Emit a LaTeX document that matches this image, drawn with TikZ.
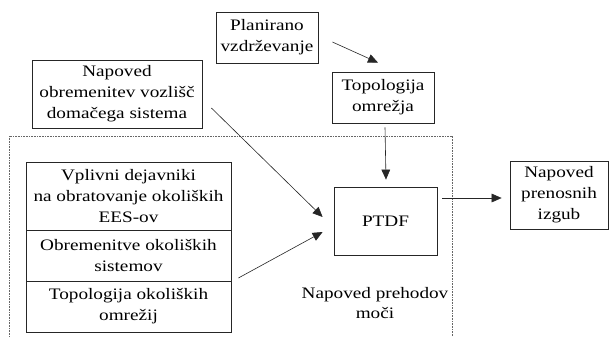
\documentclass[tikz,border=0pt]{standalone}
\usepackage{fontspec}
\setmainfont[FakeStretch=1.2]{Liberation Serif}
\usetikzlibrary{arrows.meta,calc}
\begin{document}
\begin{tikzpicture}[x=0.75pt,y=-0.75pt,
  box/.style={draw=black!85,line width=0.6pt,align=center,inner sep=0pt,
    font=\fontsize{12}{15.75}\selectfont},
  arr/.style={draw=black!85,line width=0.45pt,-{Triangle[length=7.5pt,width=6.5pt]}},
  lbl/.style={align=center,inner sep=0pt,font=\fontsize{12}{15}\selectfont}]
\useasboundingbox[fill=white] (0,0) rectangle (609,336);
\begin{scope}
\clip (0,0) rectangle (609,336);
\draw[black!60,line width=0.5pt,dash pattern=on 0.6pt off 0.6pt] (9,136) rectangle (452,345);
\end{scope}
\node[box,minimum width=102*0.75pt,minimum height=51*0.75pt] (plan) at (267,37.5) {Planirano\\vzdrževanje};
\node[box,minimum width=170*0.75pt,minimum height=68*0.75pt] (obrem) at (117,94) {Napoved\\obremenitev vozlišč\\domačega sistema};
\node[box,minimum width=102*0.75pt,minimum height=51*0.75pt] (topo) at (383,97.5) {Topologija\\omrežja};
\node[box,minimum width=103*0.75pt,minimum height=68*0.75pt] (ptdf) at (385.5,221) {PTDF};
\node[box,minimum width=98*0.75pt,minimum height=68*0.75pt] (izgub) at (559,195) {Napoved\\prenosnih\\izgub};
\node[box,minimum width=205*0.75pt,minimum height=68*0.75pt] (s1) at (128.5,196) {Vplivni dejavniki\\na obratovanje okoliških\\EES-ov};
\node[box,minimum width=205*0.75pt,minimum height=51*0.75pt] (s2) at (128.5,255.5) {Obremenitve okoliških\\sistemov};
\node[box,minimum width=205*0.75pt,minimum height=51*0.75pt] (s3) at (128.5,306.5) {Topologija okoliških\\omrežij};
\node[lbl] (pm) at (375,303) {Napoved prehodov\\moči};
\draw[arr] ($(plan.east)+(14,4.5)$) -- ($(topo.north)+(-5,-9)$);
\draw[arr] ($(topo.south)+(2,4)$) -- ($(ptdf.north)+(0.5,-7)$);
\draw[arr] ($(ptdf.east)+(5,-23)$) -- ($(izgub.west)+(-8,3)$);
\draw[arr] ($(obrem.east)+(9,14)$) -- ($(ptdf.west)+(-11,-4)$);
\draw[arr] ($(s2.east)+(7,22.5)$) -- ($(ptdf.west)+(-11,11)$);
\end{tikzpicture}
\end{document}
